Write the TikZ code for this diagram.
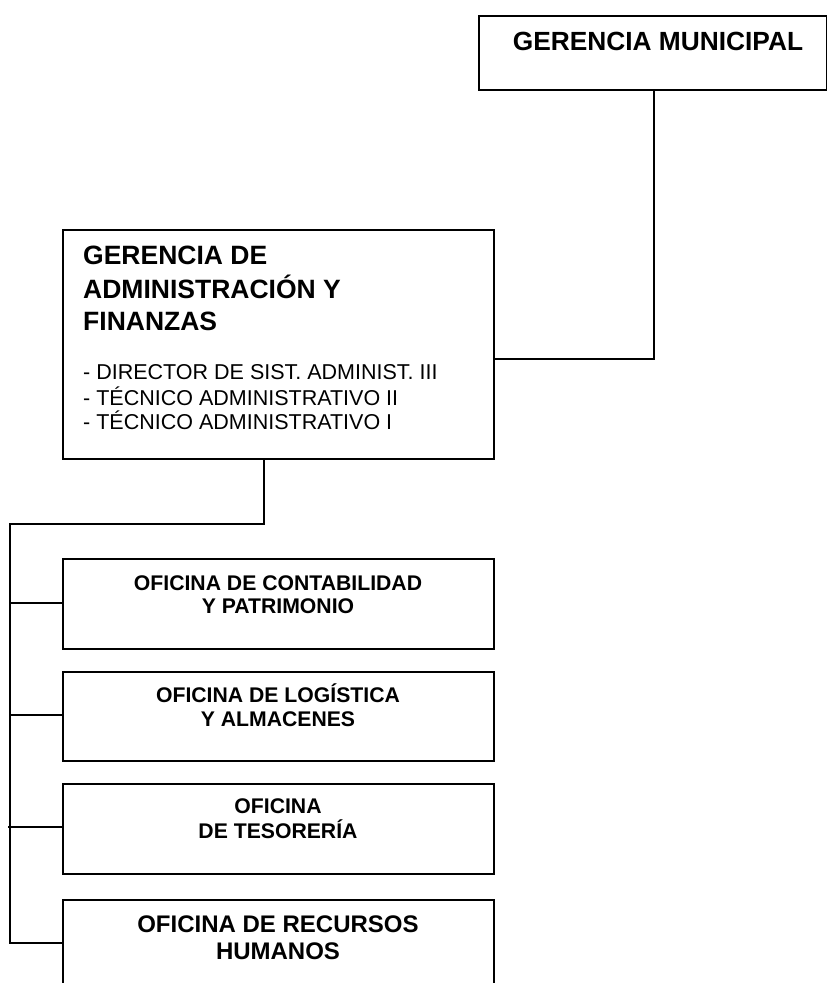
\documentclass[tikz,border=0pt]{standalone}
\usepackage{fontspec}
\setmainfont{Liberation Sans}
\begin{document}
\begin{tikzpicture}[x=1pt,y=-1pt,
  box/.style={draw=black,line width=2pt,rectangle,inner sep=0pt,anchor=north west},
  conn/.style={draw=black,line width=2pt},
  ttl/.style={anchor=base west,inner sep=0pt,font=\fontsize{26.5}{33}\selectfont\bfseries},
  itm/.style={anchor=base west,inner sep=0pt,font=\fontsize{21.5}{25}\selectfont},
  ofi/.style={anchor=base,inner sep=0pt,font=\fontsize{21.2}{24}\selectfont\bfseries},
  ofib/.style={anchor=base,inner sep=0pt,font=\fontsize{24}{27}\selectfont\bfseries}]
\useasboundingbox (0,0) rectangle (827,983);
\clip (0,0) rectangle (827,983);
% boxes
\node[box,minimum width=348pt,minimum height=74pt] (gm) at (478,15) {};
\node[box,minimum width=431pt,minimum height=229pt] (gaf) at (62,229) {};
\node[box,minimum width=431pt,minimum height=90pt] (o1) at (62,558) {};
\node[box,minimum width=431pt,minimum height=89pt] (o2) at (62,671) {};
\node[box,minimum width=431pt,minimum height=90pt] (o3) at (62,783) {};
\node[box,minimum width=431pt,minimum height=100pt] (o4) at (62,899) {};
% texts
\node[anchor=base,inner sep=0pt,font=\fontsize{26.3}{30}\selectfont\bfseries] (tgm) at (658,50) {GERENCIA MUNICIPAL};
\node[ttl] (t1) at (83,264) {GERENCIA DE};
\node[ttl] (t2) at (83,298) {ADMINISTRACIÓN Y};
\node[ttl] (t3) at (83,330) {FINANZAS};
\node[itm] (i1) at (83,379) {- DIRECTOR DE SIST. ADMINIST. III};
\node[itm] (i2) at (83,405) {- TÉCNICO ADMINISTRATIVO II};
\node[itm] (i3) at (83,429) {- TÉCNICO ADMINISTRATIVO I};
\node[ofi] (a1) at (278,590) {OFICINA DE CONTABILIDAD};
\node[ofi] (a2) at (278,613) {Y PATRIMONIO};
\node[ofi] (b1) at (278,702) {OFICINA DE LOGÍSTICA};
\node[ofi] (b2) at (278,726) {Y ALMACENES};
\node[ofi] (c1) at (278,813) {OFICINA};
\node[ofi] (c2) at (278,838) {DE TESORERÍA};
\node[ofib] (d1) at (278,932) {OFICINA DE RECURSOS};
\node[ofib] (d2) at (278,959) {HUMANOS};
% connectors
\coordinate (j1) at (654,359);
\draw[conn] (gm.south -| j1) -- (j1) -- (gaf.east |- j1);
\coordinate (j2) at (264,524);
\coordinate (bus) at (10,524);
\coordinate (busend) at (10,943);
\draw[conn] (gaf.south -| j2) -- (j2) -- (bus) -- (busend) -- (o4.west |- busend);
\draw[conn] (10,603) -- (o1.west |- 0,603);
\draw[conn] (10,715) -- (o2.west |- 0,715);
\draw[conn] (8,827) -- (o3.west |- 0,827);
\end{tikzpicture}
\end{document}
